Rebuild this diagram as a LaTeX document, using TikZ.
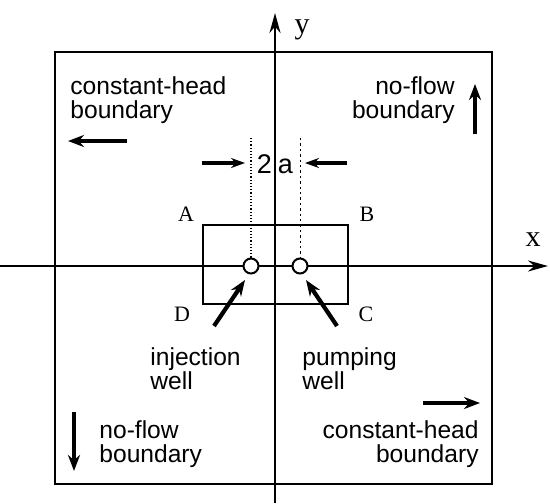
\documentclass[tikz,border=0pt]{standalone}
\usepackage{fontspec}
\setmainfont{Liberation Sans}
\newfontfamily\letterfont{Liberation Serif}
\usetikzlibrary{arrows.meta}

\begin{document}
\begin{tikzpicture}[
    x=0.5pt, y=-0.5pt,
    axis/.style={line width=1.3pt, -{Stealth[length=10pt, width=5.5pt]}},
    frame/.style={line width=1.2pt},
    flow/.style={line width=2.3pt, -{Stealth[length=8pt, width=6pt]}},
    pointer/.style={line width=2.1pt, -{Stealth[length=8pt, width=6pt]}},
    spacing/.style={line width=1.7pt, -{Stealth[length=7pt, width=5pt]}},
    guide/.style={line width=0.6pt, densely dotted},
    guideb/.style={line width=0.5pt, dash pattern=on 1.2pt off 1.5pt},
    well/.style={circle, draw, line width=1pt, fill=white, minimum size=7.5pt, inner sep=0pt},
    txt/.style={font=\fontsize{12.3}{12}\selectfont, inner sep=0pt},
    corner/.style={font=\letterfont\fontsize{11}{11}\selectfont, inner sep=0pt},
    axlabel/.style={font=\letterfont\fontsize{15}{15}\selectfont, inner sep=0pt}
]
\useasboundingbox (0,0) rectangle (550,503);

% ===== Axes =====
\coordinate (x_start) at (0,266);
\coordinate (x_end) at (548,266);
\coordinate (y_start) at (275,503);
\coordinate (y_end) at (275,13);
\draw[axis] (x_start) -- (x_end);
\draw[axis] (y_start) -- (y_end);
\node[axlabel] (x_label) at (533,240) {x};
\node[axlabel] (y_label) at (302,30) {y};

% ===== Outer boundary =====
\coordinate (outer_nw) at (55,52);
\coordinate (outer_se) at (492,484);
\draw[frame] (outer_nw) rectangle (outer_se);

% ===== Inner rectangle ABCD =====
\coordinate (rect_nw) at (203,225);
\coordinate (rect_se) at (348,304);
\draw[frame] (rect_nw) rectangle (rect_se);
\node[corner] (A) at (186,214) {A};
\node[corner] (B) at (367,214) {B};
\node[corner] (C) at (366,314) {C};
\node[corner] (D) at (182,314) {D};

% ===== Wells =====
\node[well] (inj) at (251,266) {};
\node[well] (pump) at (300,266) {};

% Guide lines and well spacing
\coordinate (inj_top) at (251,138);
\coordinate (pump_top) at (300,138);
\draw[guide] (inj_top) -- (inj.north);
\draw[guideb] (pump_top) -- (pump.north);
\node[txt, font=\fontsize{13.5}{13}\selectfont] (spacing_label) at (275,164) {2\hspace{3pt}a};
\coordinate (sp_l) at (202,163);
\coordinate (sp_r) at (347,163);
\coordinate (sp_l_tip) at (245,163);
\coordinate (sp_r_tip) at (305,163);
\draw[spacing] (sp_l) -- (sp_l_tip);
\draw[spacing] (sp_r) -- (sp_r_tip);

% Well labels
\node[txt, anchor=north west, align=left] (inj_text) at (150,347) {injection\\well};
\node[txt, anchor=north west, align=left] (pump_text) at (302,347) {pumping\\well};
\coordinate (inj_tail) at (214,326);
\coordinate (inj_tip) at (245,280);
\coordinate (pump_tail) at (337,326);
\coordinate (pump_tip) at (306,280);
\draw[pointer] (inj_tail) -- (inj_tip);
\draw[pointer] (pump_tail) -- (pump_tip);

% ===== Boundary labels =====
% top left
\node[txt, anchor=north west, align=left] (tl_text) at (70,76) {constant-head\\boundary};
\coordinate (tl_a) at (127,141);
\coordinate (tl_b) at (68,141);
\draw[flow] (tl_a) -- (tl_b);

% top right
\node[txt, anchor=north east, align=right] (tr_text) at (455,76) {no-flow\\boundary};
\coordinate (tr_a) at (475,134);
\coordinate (tr_b) at (475,84);
\draw[flow] (tr_a) -- (tr_b);

% bottom left
\node[txt, anchor=north west, align=left] (bl_text) at (99,420) {no-flow\\boundary};
\coordinate (bl_a) at (74,412);
\coordinate (bl_b) at (74,471);
\draw[flow] (bl_a) -- (bl_b);

% bottom right
\node[txt, anchor=north east, align=right] (br_text) at (479,420) {constant-head\\boundary};
\coordinate (br_a) at (423,403);
\coordinate (br_b) at (480,403);
\draw[flow] (br_a) -- (br_b);

\end{tikzpicture}
\end{document}
